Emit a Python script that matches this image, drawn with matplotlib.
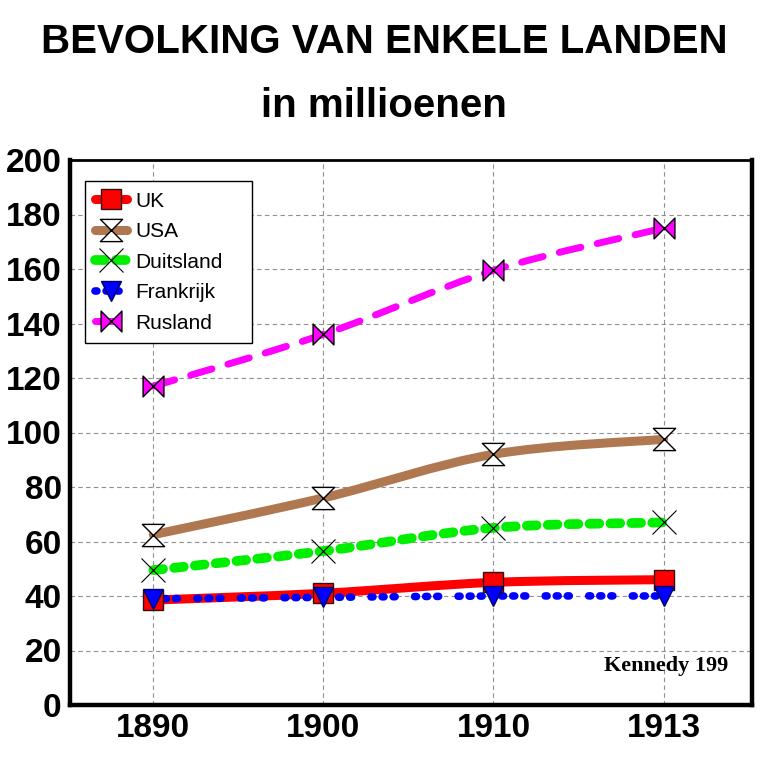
import matplotlib
matplotlib.use("Agg")
import matplotlib.pyplot as plt
import numpy as np
from matplotlib.path import Path
from matplotlib.patches import PathPatch
from matplotlib.lines import Line2D

plt.rcParams['font.family'] = ['Liberation Sans', 'DejaVu Sans']

years = ['1890', '1900', '1910', '1913']
uk = [38.5, 41, 45, 46]
usa = [62.5, 76, 92, 97.5]
duitsland = [49.5, 56.5, 65, 67]
frankrijk = [39, 39.5, 40, 40]
rusland = [117, 136, 159.5, 175]
yticks = list(range(0, 201, 20))

hourglass = Path([(-1, 1), (1, 1), (-1, -1), (1, -1), (-1, 1)],
                 [Path.MOVETO, Path.LINETO, Path.LINETO, Path.LINETO, Path.CLOSEPOLY])
bowtie = Path([(-1, 1), (-1, -1), (1, 1), (1, -1), (-1, 1)],
              [Path.MOVETO, Path.LINETO, Path.LINETO, Path.LINETO, Path.CLOSEPOLY])

# label, values, color, lw, linestyle, marker, marker size, face, edge
series = [
    ('Rusland', rusland, '#ff00ff', 5, (0, (3.2, 2.4)), bowtie, 15, '#ff00ff', 'black'),
    ('USA', usa, '#b07850', 6.5, '-', hourglass, 16, 'white', 'black'),
    ('Duitsland', duitsland, '#00ee00', 7, (0, (1.0, 1.15)), 'x', 17, 'black', 'black'),
    ('UK', uk, '#ff0000', 6.5, '-', 's', 15, '#ff0000', '#301010'),
    ('Frankrijk', frankrijk, '#0000ff', 5.5, (0, (0.25, 1.2, 0.25, 1.2, 0.25, 2.55)), 'v', 15, '#0000ff', '#000060'),
]
legend_order = ['UK', 'USA', 'Duitsland', 'Frankrijk', 'Rusland']


def smooth_path(xs, ys):
    # Catmull-Rom curve through the data points as cubic bezier segments
    p = np.column_stack([xs, ys]).astype(float)
    ext = np.vstack([p[0], p, p[-1]])
    verts = [p[0]]
    codes = [Path.MOVETO]
    for i in range(len(p) - 1):
        p0, p1, p2, p3 = ext[i], ext[i + 1], ext[i + 2], ext[i + 3]
        verts += [p1 + (p2 - p0) / 6, p2 - (p3 - p1) / 6, p2]
        codes += [Path.CURVE4] * 3
    return Path(verts, codes)


fig = plt.figure(figsize=(7.68, 7.68), dpi=100)
ax = fig.add_axes([70 / 768, 1 - 705 / 768, 682 / 768, 545 / 768])

x = np.arange(len(years))
handles = {}
for label, vals, color, lw, ls, marker, ms, face, edge in series:
    patch = PathPatch(smooth_path(x, vals), fill=False, edgecolor=color, lw=lw,
                      linestyle=ls, capstyle='round', zorder=3)
    ax.add_patch(patch)
    mew = 0.8 if marker == 'x' else 1.0
    ax.plot(x, vals, linestyle='none', marker=marker, markersize=ms,
            markerfacecolor=face, markeredgecolor=edge, markeredgewidth=mew,
            color=edge, zorder=4)
    handles[label] = Line2D([], [], color=color, lw=lw, linestyle=ls,
                            dash_capstyle='round', solid_capstyle='round',
                            marker=marker, markersize=ms,
                            markerfacecolor=face, markeredgecolor=edge,
                            markeredgewidth=mew)

ax.set_xlim(-0.49, 3.52)
ax.set_ylim(0, 200)
ax.set_xticks(x)
ax.set_xticklabels(years)
ax.set_yticks(yticks)
ax.tick_params(length=0, labelsize=24, pad=6)
for t in ax.get_xticklabels() + ax.get_yticklabels():
    t.set_fontweight('bold')
ax.grid(True, color='#909090', linestyle=(0, (4, 3)), lw=0.8)
ax.set_axisbelow(True)
for side in ['left', 'bottom', 'right']:
    ax.spines[side].set_linewidth(3.2)
ax.spines['top'].set_linewidth(2)

leg = ax.legend([handles[k] for k in legend_order], legend_order,
                loc='upper left', bbox_to_anchor=(0.022, 0.661, 0.245, 0.3),
                mode='expand', borderaxespad=0,
                fontsize=15, handlelength=1.5, labelspacing=0.55,
                numpoints=1, fancybox=False, framealpha=1, edgecolor='black',
                borderpad=0.5, handletextpad=0.4)
leg.get_frame().set_linewidth(1.0)

ax.text(0.965, 0.072, 'Kennedy 199', transform=ax.transAxes, ha='right', va='center',
        fontsize=16, fontweight='bold', family=['Liberation Serif', 'DejaVu Serif'])

fig.text(0.5, 0.945, 'BEVOLKING VAN ENKELE LANDEN', ha='center', va='center',
         fontsize=29, fontweight='bold')
fig.text(0.5, 0.862, 'in millioenen', ha='center', va='center',
         fontsize=29, fontweight='bold')

fig.savefig('out.png', dpi=100)
